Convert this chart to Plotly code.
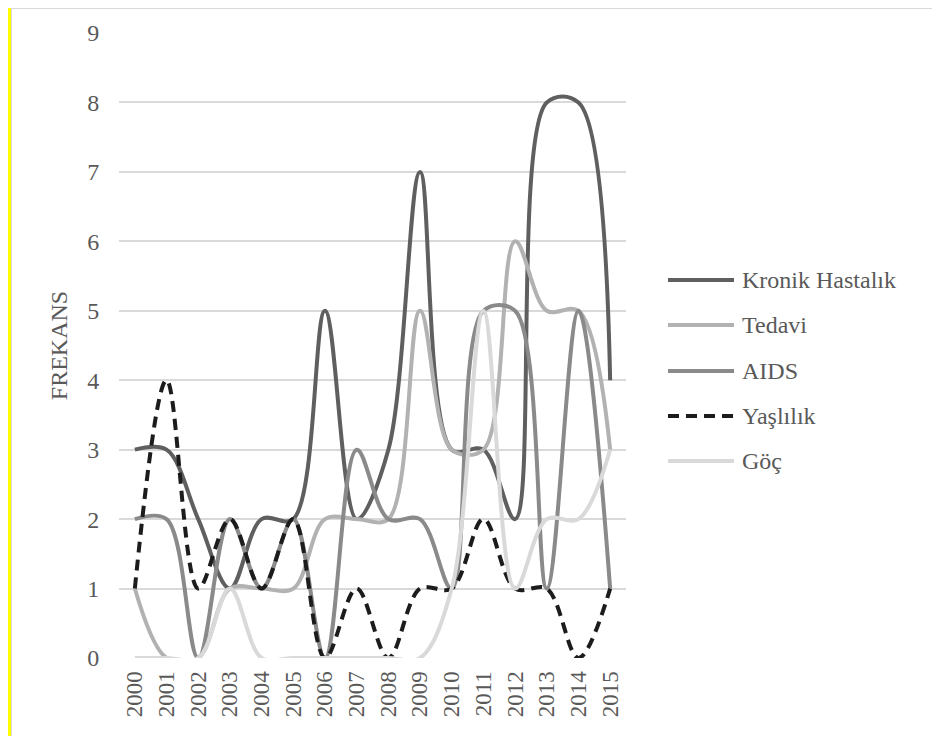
import plotly.graph_objects as go

# === Veri === #
yillar = ["2000", "2001", "2002", "2003", "2004", "2005", "2006", "2007",
          "2008", "2009", "2010", "2011", "2012", "2013", "2014", "2015"]

kronik = [3, 3, 2, 1, 2, 2, 5, 2, 3, 7, 3, 3, 2, 8, 8, 4]
tedavi = [1, 0, 0, 1, 1, 1, 2, 2, 2, 5, 3, 3, 6, 5, 5, 3]
aids = [2, 2, 0, 2, 1, 2, 0, 3, 2, 2, 1, 5, 5, 1, 5, 1]
yaslilik = [1, 4, 1, 2, 1, 2, 0, 1, 0, 1, 1, 2, 1, 1, 0, 1]
goc = [0, 0, 0, 1, 0, 0, 0, 0, 0, 0, 1, 5, 1, 2, 2, 3]

seriler = [
    ("Kronik Hastalık", kronik, "#5f5f5f", "solid"),
    ("Tedavi", tedavi, "#b2b2b2", "solid"),
    ("AIDS", aids, "#8a8a8a", "solid"),
    ("Yaşlılık", yaslilik, "#1c1c1c", "11px,7px"),
    ("Göç", goc, "#d9d9d9", "solid"),
]

FONT = "Liberation Serif, Times New Roman, Tinos, DejaVu Serif, serif"
W, H = 940, 736
OFF = 8  # sayfa govdesi kenar boslugu
L, T = 119 - OFF, 33 - OFF
R = W - (626 - OFF)
B = H - (658 - OFF)
pw = W - L - R
ph = H - T - B


# sayfa pikselinden paper koordinatina
def px_x(p):
    return (p - OFF - L) / pw


def px_y(p):
    return (H - B - (p - OFF)) / ph


fig = go.Figure()

for ad, vals, renk, dash in seriler:
    fig.add_trace(go.Scatter(
        x=yillar, y=vals,
        mode="lines",
        name=ad,
        showlegend=False,
        line=dict(color=renk, width=4, dash=dash, shape="spline", smoothing=1),
    ))

# === Lejant (elle) === #
leg_y = [280, 325, 371, 416, 461]
for (ad, vals, renk, dash), yy in zip(seriler, leg_y):
    fig.add_shape(type="line", xref="paper", yref="paper",
                  x0=px_x(668), x1=px_x(734), y0=px_y(yy), y1=px_y(yy),
                  line=dict(color=renk, width=4, dash=dash))
    fig.add_annotation(xref="paper", yref="paper", x=px_x(740), y=px_y(yy),
                       text=ad, showarrow=False, xanchor="left", yanchor="middle",
                       font=dict(family=FONT, size=24, color="#595959"))

# cerceve (Excel grafik kenari)
fig.add_shape(type="line", xref="paper", yref="paper",
              x0=px_x(11), x1=px_x(960), y0=px_y(8.5), y1=px_y(8.5),
              line=dict(color="#d9d9d9", width=1))
fig.add_shape(type="line", xref="paper", yref="paper",
              x0=px_x(9.5), x1=px_x(9.5), y0=px_y(8), y1=px_y(760),
              line=dict(color="#ffff00", width=3))
fig.add_shape(type="line", xref="paper", yref="paper",
              x0=px_x(11.5), x1=px_x(11.5), y0=px_y(8), y1=px_y(760),
              line=dict(color="#d9d9d9", width=1))

fig.update_layout(
    width=W, height=H,
    margin=dict(l=L, r=R, t=T, b=B),
    plot_bgcolor="white",
    paper_bgcolor="white",
    font=dict(family=FONT, size=24, color="#595959"),
    showlegend=False,
    xaxis=dict(
        type="category",
        range=[-0.5, 15.5],
        tickangle=-90,
        tickfont=dict(family=FONT, size=23, color="#595959"),
        showgrid=False,
        showline=False,
        zeroline=False,
        ticks="outside", ticklen=3, tickcolor="rgba(0,0,0,0)",
    ),
    yaxis=dict(
        range=[0, 9],
        dtick=1,
        tickfont=dict(family=FONT, size=24, color="#595959"),
        gridcolor="#d9d9d9",
        gridwidth=1.5,
        zeroline=False,
        showline=False,
        ticks="outside", ticklen=14, tickcolor="rgba(0,0,0,0)",
        title=dict(text="FREKANS", font=dict(family=FONT, size=24, color="#595959"),
                   standoff=12),
    ),
)

fig.write_html("out.html")
